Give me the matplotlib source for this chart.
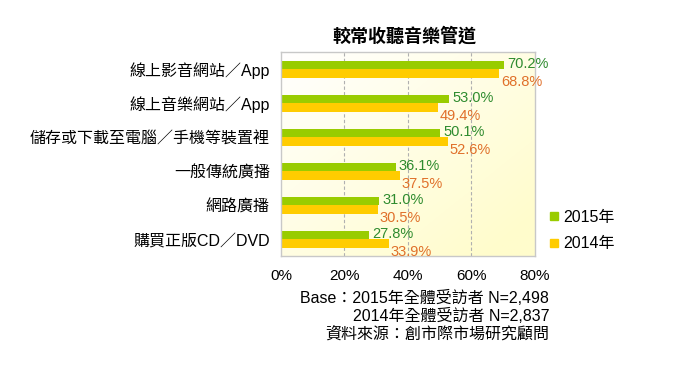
import numpy as np
import matplotlib.pyplot as plt
from matplotlib.lines import Line2D

plt.rcParams['font.family'] = ['Liberation Sans', 'Noto Sans CJK TC', 'DejaVu Sans']

title = '較常收聽音樂管道'
categories = ['線上影音網站／App', '線上音樂網站／App', '儲存或下載至電腦／手機等裝置裡',
              '一般傳統廣播', '網路廣播', '購買正版CD／DVD']
vals_2015 = [70.2, 53.0, 50.1, 36.1, 31.0, 27.8]
vals_2014 = [68.8, 49.4, 52.6, 37.5, 30.5, 33.9]
series_names = ['2015年', '2014年']
xticks = [0, 20, 40, 60, 80]
footer = ['Base：2015年全體受訪者 N=2,498',
          '2014年全體受訪者 N=2,837',
          '資料來源：創市際市場研究顧問']

green = '#99cc00'
yellow = '#ffcc00'
green_txt = '#2e8b2e'
orange_txt = '#e0702a'

fig = plt.figure(figsize=(6.77, 3.81), dpi=100)
ax = fig.add_axes([0.415, 0.328, 0.375, 0.535])

# gradient background white -> pale yellow
gx = np.linspace(0, 1, 200)
gy = np.linspace(0, 1, 200)
GX, GY = np.meshgrid(gx, gy)
t = np.clip(0.55 * GX + 0.55 * GY, 0, 1)
c0 = np.array([1.0, 1.0, 1.0])
c1 = np.array([1.0, 0.99, 0.80])
img = c0 + (c1 - c0) * t[..., None]
ax.imshow(img, extent=[0, 80, 5.5, -0.5], aspect='auto', zorder=0, origin='upper')

y = np.arange(len(categories))
h = 0.25
ax.barh(y - h / 2, vals_2015, height=h, color=green, zorder=2)
ax.barh(y + h / 2, vals_2014, height=h, color=yellow, zorder=2)

for yi, v in zip(y, vals_2015):
    ax.text(v + 1.0, yi - h / 2 - 0.02, f'{v:.1f}%', color=green_txt, fontsize=10.5,
            va='center', ha='left', zorder=3)
for yi, v in zip(y, vals_2014):
    ax.text(v + 0.6, yi + h / 2 + 0.25, f'{v:.1f}%', color=orange_txt, fontsize=10.5,
            va='center', ha='left', zorder=3)

ax.set_xlim(0, 80)
ax.set_ylim(5.5, -0.5)
ax.set_xticks(xticks)
ax.set_xticklabels([f'{v}%' for v in xticks], fontsize=11)
ax.set_yticks(y)
ax.set_yticklabels(categories, fontsize=11.5)
ax.tick_params(axis='x', length=0, pad=9)
ax.tick_params(axis='y', length=0, pad=8)
for x in xticks[1:-1]:
    ax.axvline(x, color='#b0b0b0', lw=0.8, ls=(0, (3, 2)), zorder=1)
for s in ax.spines.values():
    s.set_color('#c8c8c8')
    s.set_linewidth(1.0)

fig.text(0.597, 0.905, title, ha='center', va='center', fontsize=13, fontweight='bold')

handles = [Line2D([], [], marker='s', ls='', color=green, markersize=6),
           Line2D([], [], marker='s', ls='', color=yellow, markersize=6)]
fig.legend(handles, series_names, loc='center left', bbox_to_anchor=(0.79, 0.395),
           frameon=False, fontsize=11.5, handlelength=0.6, handletextpad=0.3,
           labelspacing=0.7)

for i, line in enumerate(footer):
    fig.text(0.811, 0.218 - i * 0.047, line, ha='right', va='center', fontsize=11.5)

fig.savefig('out.png', dpi=100)
